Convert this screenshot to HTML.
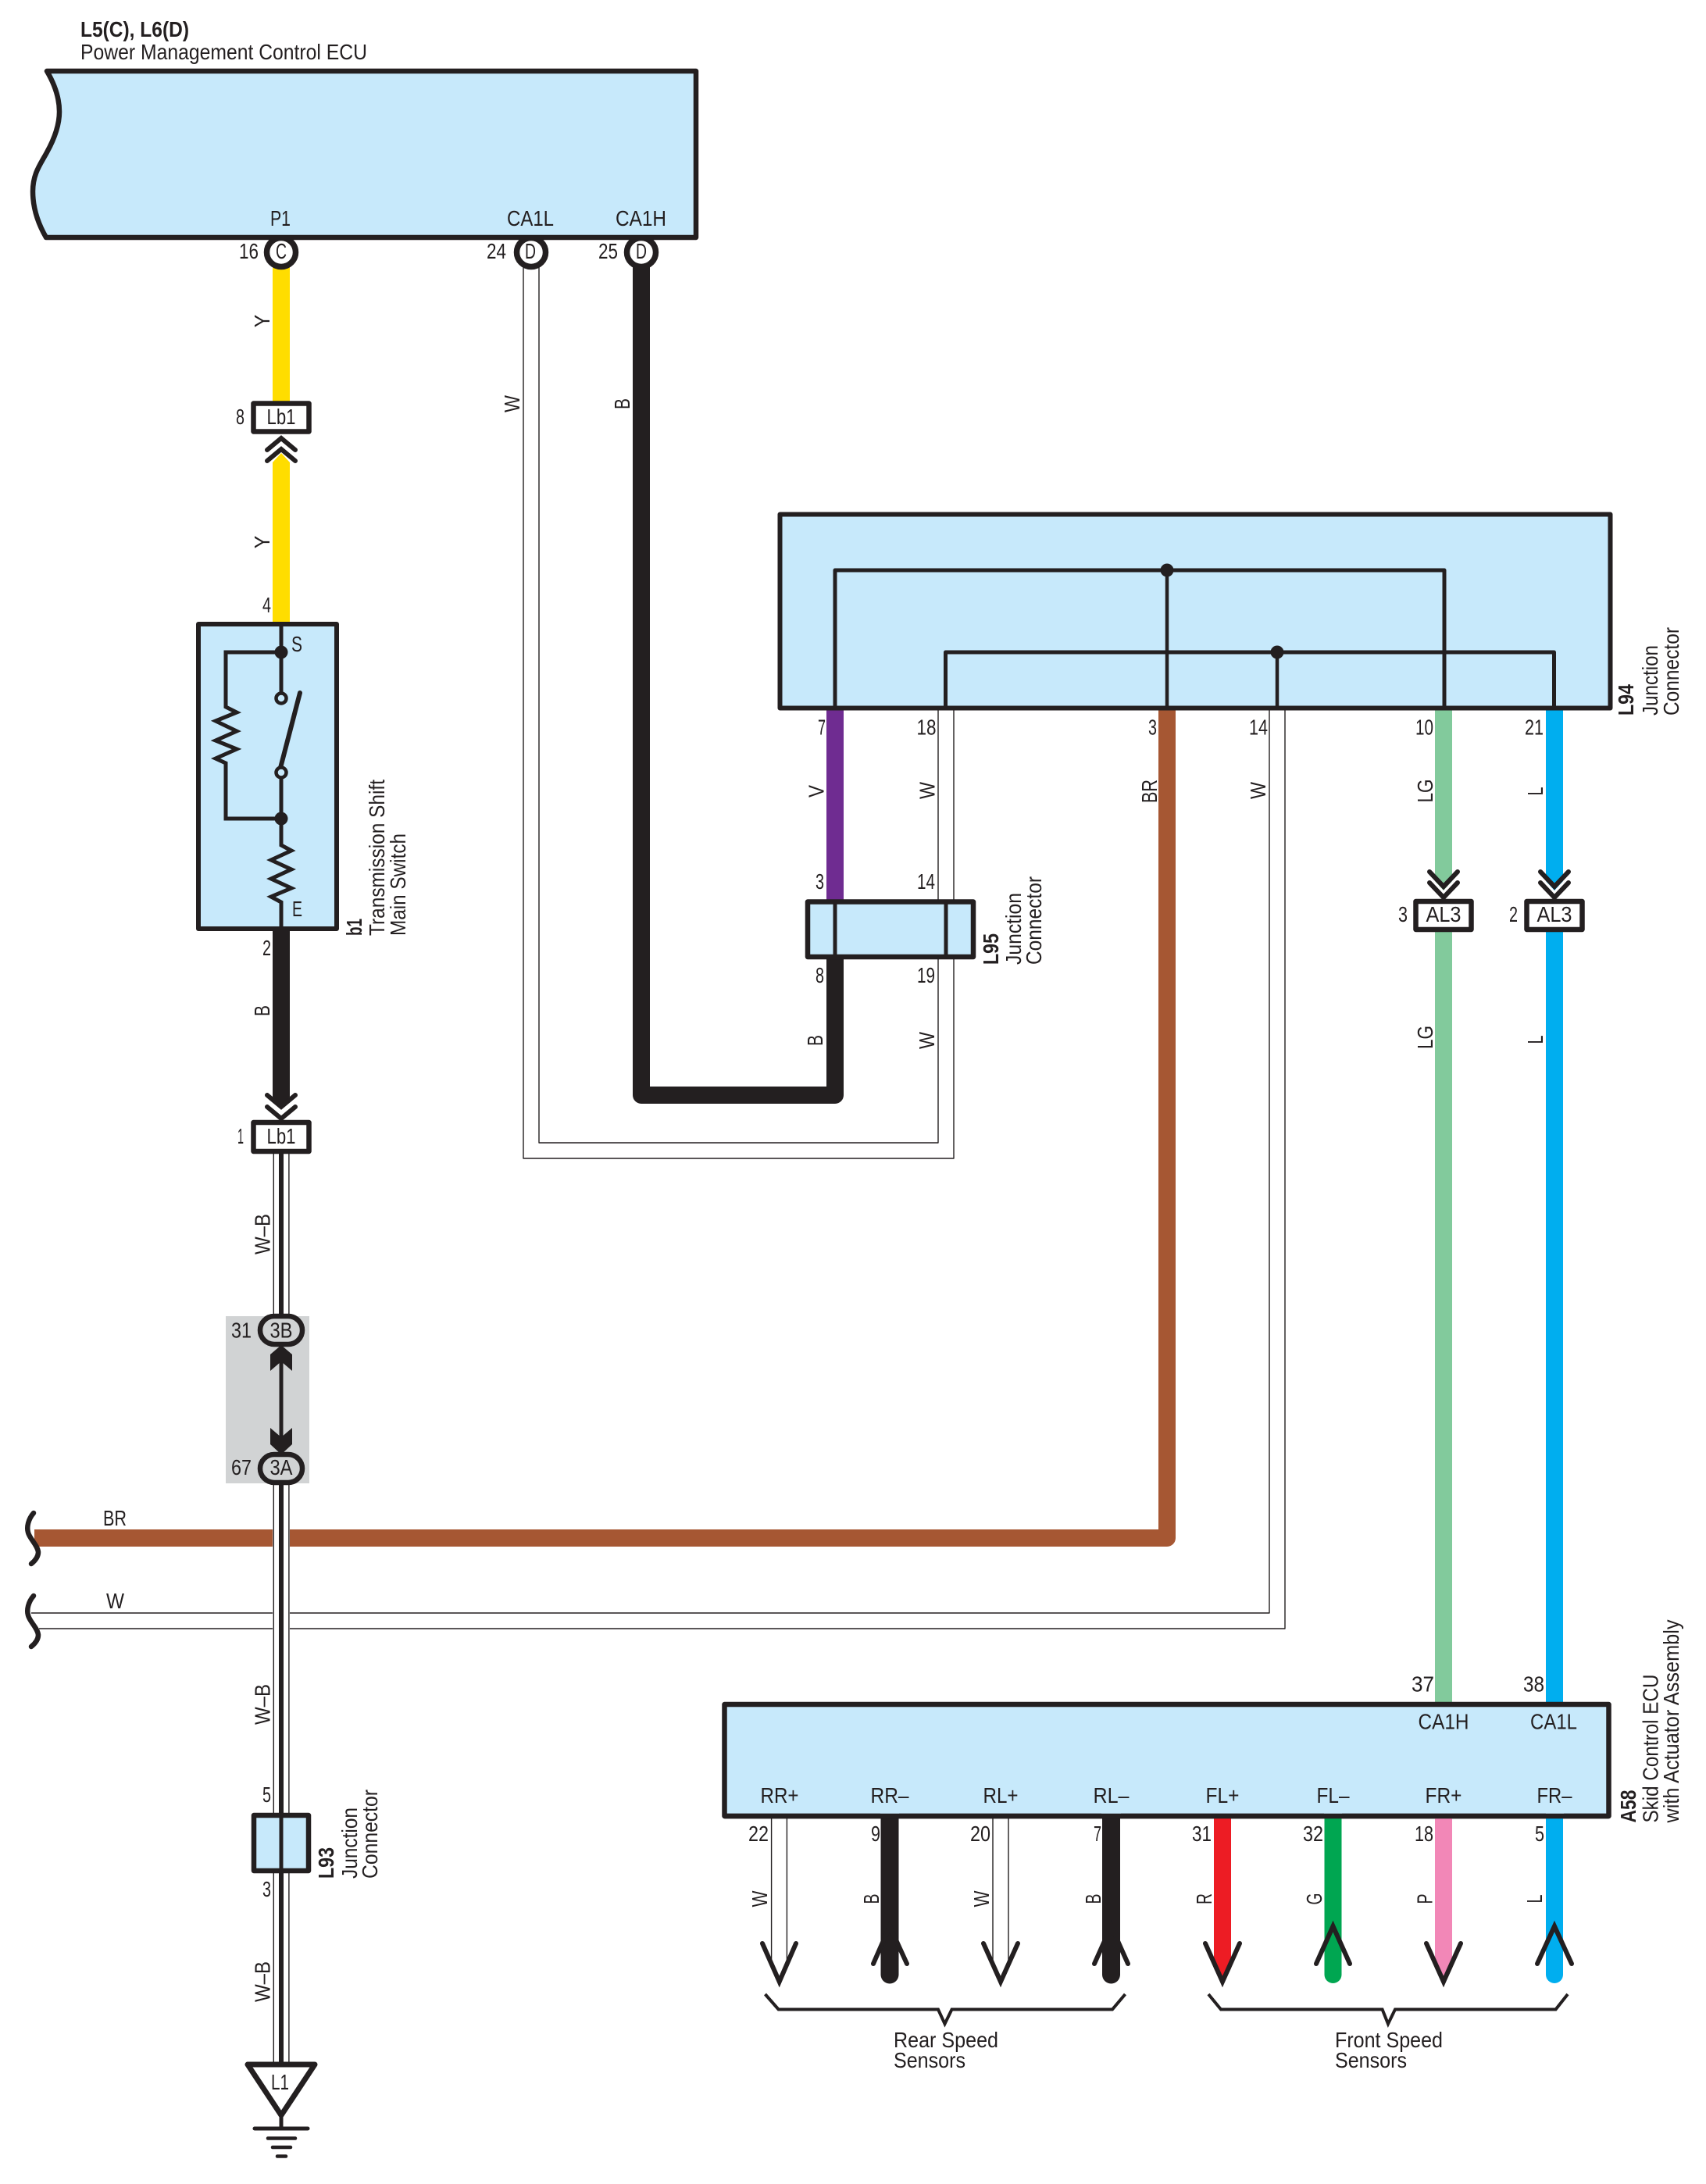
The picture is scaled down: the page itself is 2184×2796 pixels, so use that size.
<!DOCTYPE html>
<html><head><meta charset="utf-8"><title>Wiring diagram</title>
<style>html,body{margin:0;padding:0;background:#fff}svg{display:block}
text{font-family:"Liberation Sans",Arial,sans-serif;font-size:28px;fill:#231F20}
.b{font-weight:bold}.m{text-anchor:middle}</style></head>
<body>
<svg xmlns="http://www.w3.org/2000/svg" width="2184" height="2796" viewBox="0 0 2184 2796">
<rect width="2184" height="2796" fill="#fff"/>
<!-- grey splice background -->
<rect x="289" y="1685" width="107" height="214" fill="#D1D3D4"/>
<!-- coloured wires -->
<g fill="none" stroke-linecap="butt" stroke-linejoin="round">
<path d="M360,340V514" stroke="#FFDD00" stroke-width="22"/>
<polygon points="349,592 360,580 371,592 371,800 349,800" fill="#FFDD00"/>
<path d="M360,1190V1404" stroke="#231F20" stroke-width="22"/>
<polygon points="349,1400 371,1400 371,1404 360,1416 349,1404" fill="#231F20"/>
<path d="M821,340V1402H1069V1226" stroke="#231F20" stroke-width="22"/>
<path d="M1069,905V1154" stroke="#6F2C91" stroke-width="22"/>
<path d="M1494,905V1969H44" stroke="#A65733" stroke-width="22"/>
<path d="M1848,905V1116" stroke="#82CA9C" stroke-width="22"/>
<polygon points="1837,1116 1859,1116 1859,1128 1848,1140 1837,1128" fill="#82CA9C"/>
<path d="M1848,1190V2182" stroke="#82CA9C" stroke-width="22"/>
<path d="M1990,905V1116" stroke="#00AEEF" stroke-width="22"/>
<polygon points="1979,1116 2001,1116 2001,1128 1990,1140 1979,1128" fill="#00AEEF"/>
<path d="M1990,1190V2182" stroke="#00AEEF" stroke-width="22"/>
<!-- thin white wires -->
<g stroke="#231F20" stroke-width="1.4">
<path d="M670,340V1483H1221V905"/>
<path d="M690,340V1463H1201V905"/>
<path d="M40,2065H1625V905"/>
<path d="M50,2085H1645V905"/>
</g>
</g>
<!-- W-B wire -->
<rect x="349" y="1477" width="22" height="1166" fill="#fff"/>
<rect x="289" y="1685" width="107" height="214" fill="#D1D3D4"/>
<g stroke="#231F20" stroke-width="1.4">
<path d="M350.3,1477V1685M369.9,1477V1685M350.3,1900V2643M369.9,1900V2643"/>
</g>
<path d="M360,1477V1685M360,1900V2643" stroke="#231F20" stroke-width="6" fill="none"/>
<!-- splice -->
<path d="M360,1743V1840" stroke="#231F20" stroke-width="5"/>
<polygon points="360,1722 374,1734 374,1755 360,1743 346,1755 346,1734" fill="#231F20"/>
<polygon points="346,1828 360,1840 374,1828 374,1849 360,1862 346,1849" fill="#231F20"/>
<rect x="333" y="1685" width="54" height="36" rx="18" fill="#D1D3D4" stroke="#231F20" stroke-width="6.5"/>
<rect x="333" y="1862" width="54" height="36" rx="18" fill="#D1D3D4" stroke="#231F20" stroke-width="6.5"/>
<!-- pin circles (behind ECU) -->
<g fill="#fff" stroke="#231F20" stroke-width="7.5">
<circle cx="360" cy="323" r="18.5"/><circle cx="680" cy="323" r="18.5"/><circle cx="821" cy="323" r="18.5"/>
</g>
<!-- ECU -->
<path d="M60,91H891V304H59C48,285 42,265 42,245C42,222 52,210 60,195C70,177 76,160 76,143C76,125 70,108 60,91Z" fill="#C7E9FB" stroke="#231F20" stroke-width="6.5" stroke-linejoin="round"/>
<!-- L94 -->
<rect x="998.5" y="658.5" width="1063" height="248" fill="#C7E9FB" stroke="#231F20" stroke-width="6" stroke-linejoin="round"/>
<g fill="none" stroke="#231F20" stroke-width="5" stroke-linejoin="round">
<path d="M1069,906V730H1849V906"/>
<path d="M1210.5,906V835H1989.5V906"/>
<path d="M1494,730V906M1635,835V906" stroke-width="4.5"/>
</g>
<circle cx="1494" cy="730" r="8.5" fill="#231F20"/><circle cx="1635" cy="835" r="8.5" fill="#231F20"/>
<!-- L95 -->
<rect x="1034" y="1154.5" width="212" height="70.5" fill="#C7E9FB" stroke="#231F20" stroke-width="6.5" stroke-linejoin="round"/>
<path d="M1069,1154V1226M1211,1154V1226" stroke="#231F20" stroke-width="5"/>
<!-- switch box -->
<rect x="254" y="799" width="177" height="390" fill="#C7E9FB" stroke="#231F20" stroke-width="6" stroke-linejoin="round"/>
<g fill="none" stroke="#231F20" stroke-width="5" stroke-linejoin="miter">
<path d="M360,799V888"/>
<path d="M360,835H289V905L303,912L276,923L303,936L276,948L303,959L276,971L289,977V1048H360"/>
<path d="M360,996V1082L373,1089L347,1101L373,1113L347,1125L373,1137L347,1148L360,1155V1190"/>
<path d="M359,983L384,887" stroke-width="6" stroke-linecap="round"/>
</g>
<circle cx="360" cy="835" r="8.5" fill="#231F20"/><circle cx="360" cy="1048" r="8.5" fill="#231F20"/>
<circle cx="360" cy="894" r="6.5" fill="#C7E9FB" stroke="#231F20" stroke-width="4.5"/>
<circle cx="360" cy="989" r="6.5" fill="#C7E9FB" stroke="#231F20" stroke-width="4.5"/>
<!-- connectors -->
<g fill="#fff" stroke="#231F20" stroke-width="6.5" stroke-linejoin="round">
<rect x="324.5" y="516.5" width="71" height="36"/>
<rect x="324.5" y="1437" width="71" height="37"/>
<rect x="1812.5" y="1154" width="71" height="36"/>
<rect x="1954.5" y="1154" width="71" height="36"/>
</g>
<!-- chevrons -->
<g fill="none" stroke="#231F20" stroke-width="6" stroke-linecap="round" stroke-linejoin="miter">
<path d="M342,576L360,561L378,576M342,590L360,575L378,590"/>
<path d="M342,1402L360,1417L378,1402M342,1417L360,1432L378,1417"/>
<path d="M1830,1116L1848,1135L1866,1116M1830,1130L1848,1149L1866,1130"/>
<path d="M1972,1116L1990,1135L2008,1116M1972,1130L1990,1149L2008,1130"/>
</g>
<!-- L93 -->
<rect x="325" y="2324" width="70" height="71" fill="#C7E9FB" stroke="#231F20" stroke-width="6.5" stroke-linejoin="round"/>
<path d="M360,2324V2395" stroke="#231F20" stroke-width="5"/>
<!-- ground -->
<path d="M317,2643H403L360,2708Z" fill="#fff" stroke="#231F20" stroke-width="7" stroke-linejoin="round"/>
<g stroke="#231F20" stroke-linecap="round" fill="none">
<path d="M360,2707V2725" stroke-width="5"/>
<path d="M326,2725H394" stroke-width="5"/>
<path d="M343,2737.5H378" stroke-width="4.5"/>
<path d="M349,2749H372" stroke-width="4.5"/>
<path d="M355,2760.5H366" stroke-width="4.5"/>
</g>
<!-- A58 -->
<rect x="927.5" y="2182" width="1132" height="143" fill="#C7E9FB" stroke="#231F20" stroke-width="6.5" stroke-linejoin="round"/>
<!-- output wires -->
<g stroke="#231F20" stroke-width="1.4" fill="none">
<path d="M987.6,2328V2520M1007.4,2328V2520M1271,2328V2520M1291,2328V2520"/>
</g>
<path d="M1139,2328V2528M1422.5,2328V2528" stroke="#231F20" stroke-width="23" stroke-linecap="round" fill="none"/>
<rect x="1127" y="2310" width="24" height="14" fill="#C7E9FB"/><rect x="1410" y="2310" width="25" height="14" fill="#C7E9FB"/>
<path d="M1706.5,2328V2528" stroke="#00A651" stroke-width="22" stroke-linecap="round" fill="none"/>
<rect x="1695" y="2310" width="23" height="14" fill="#C7E9FB"/>
<path d="M1990,2328V2528" stroke="#00AEEF" stroke-width="22" stroke-linecap="round" fill="none"/>
<rect x="1979" y="2310" width="23" height="14" fill="#C7E9FB"/>
<polygon points="1554,2328 1576,2328 1576,2520 1565,2538 1554,2520" fill="#ED1C24"/>
<polygon points="1837,2328 1859,2328 1859,2520 1848,2538 1837,2520" fill="#F287B7"/>
<path d="M927.5,2325H2059.5" stroke="#231F20" stroke-width="6.5"/>
<g fill="none" stroke="#231F20" stroke-width="6" stroke-linecap="round" stroke-linejoin="miter">
<path d="M976,2488L997.7,2537L1019,2488"/>
<path d="M1259,2488L1281,2537L1303,2488"/>
<path d="M1543,2488L1565,2537L1587,2488"/>
<path d="M1826,2488L1848,2537L1870,2488"/>
<path d="M1118,2514L1139,2466L1161,2514"/>
<path d="M1401,2514L1422.5,2466L1444,2514"/>
<path d="M1685,2514L1706.5,2466L1728,2514"/>
<path d="M1968,2514L1990,2466L2012,2514"/>
</g>
<!-- brackets -->
<g fill="none" stroke="#231F20" stroke-width="4">
<path d="M979.5,2553L996.6,2572.5H1201L1209.5,2591L1218.5,2572.5H1424L1440.5,2553"/>
<path d="M1547,2553L1563,2572.5H1769.6L1777,2591L1786,2572.5H1991.6L2007,2553"/>
</g>
<!-- break marks -->
<g fill="none" stroke="#231F20" stroke-width="6.5" stroke-linecap="round">
<path d="M43,1937C36,1945 34,1955 36,1962C38,1970 48,1978 49,1987C49,1993 45,1998 40,2002"/>
<path d="M43,2043C36,2051 34,2061 36,2068C38,2076 48,2084 49,2093C49,2099 45,2104 40,2108"/>
</g>
<!-- horizontal text -->
<text class="b" x="103" y="47" textLength="139" lengthAdjust="spacingAndGlyphs">L5(C), L6(D)</text>
<text x="103" y="76" textLength="367" lengthAdjust="spacingAndGlyphs">Power Management Control ECU</text>
<g>
<text class="m" x="359" y="289" textLength="26" lengthAdjust="spacingAndGlyphs">P1</text>
<text class="m" x="679" y="289" textLength="60" lengthAdjust="spacingAndGlyphs">CA1L</text>
<text class="m" x="820.5" y="289" textLength="65" lengthAdjust="spacingAndGlyphs">CA1H</text>
<text class="m" x="360" y="331" textLength="14" lengthAdjust="spacingAndGlyphs">C</text>
<text class="m" x="679" y="331" textLength="14" lengthAdjust="spacingAndGlyphs">D</text>
<text class="m" x="821" y="331" textLength="14" lengthAdjust="spacingAndGlyphs">D</text>
<text x="306" y="331" textLength="25" lengthAdjust="spacingAndGlyphs">16</text>
<text x="623" y="331" textLength="25" lengthAdjust="spacingAndGlyphs">24</text>
<text x="766" y="331" textLength="25" lengthAdjust="spacingAndGlyphs">25</text>
<text x="302" y="543" textLength="11" lengthAdjust="spacingAndGlyphs">8</text>
<text class="m" x="360" y="543" textLength="37" lengthAdjust="spacingAndGlyphs">Lb1</text>
<text x="336" y="784" textLength="11" lengthAdjust="spacingAndGlyphs">4</text>
<text x="373" y="834" textLength="14" lengthAdjust="spacingAndGlyphs">S</text>
<text x="374" y="1173" textLength="13" lengthAdjust="spacingAndGlyphs">E</text>
<text x="336" y="1223" textLength="11" lengthAdjust="spacingAndGlyphs">2</text>
<text x="304" y="1464" textLength="8" lengthAdjust="spacingAndGlyphs">1</text>
<text class="m" x="360" y="1464" textLength="37" lengthAdjust="spacingAndGlyphs">Lb1</text>
<text class="m" x="360" y="1712.5" textLength="29" lengthAdjust="spacingAndGlyphs">3B</text>
<text class="m" x="360" y="1888" textLength="29" lengthAdjust="spacingAndGlyphs">3A</text>
<text x="296" y="1712.5" textLength="26" lengthAdjust="spacingAndGlyphs">31</text>
<text x="296" y="1888" textLength="26" lengthAdjust="spacingAndGlyphs">67</text>
<text x="132" y="1953" textLength="30" lengthAdjust="spacingAndGlyphs">BR</text>
<text x="136" y="2059" textLength="23" lengthAdjust="spacingAndGlyphs">W</text>
<text x="336" y="2307" textLength="11" lengthAdjust="spacingAndGlyphs">5</text>
<text x="336" y="2428" textLength="11" lengthAdjust="spacingAndGlyphs">3</text>
<text class="m" x="358.5" y="2675" textLength="23" lengthAdjust="spacingAndGlyphs">L1</text>
<!-- L94 pins -->
<text x="1047" y="940.5" textLength="10" lengthAdjust="spacingAndGlyphs">7</text>
<text x="1173.5" y="940.5" textLength="25" lengthAdjust="spacingAndGlyphs">18</text>
<text x="1470" y="940.5" textLength="11" lengthAdjust="spacingAndGlyphs">3</text>
<text x="1599" y="940.5" textLength="24" lengthAdjust="spacingAndGlyphs">14</text>
<text x="1812" y="940.5" textLength="23" lengthAdjust="spacingAndGlyphs">10</text>
<text x="1952" y="940.5" textLength="24" lengthAdjust="spacingAndGlyphs">21</text>
<text x="1044" y="1138" textLength="11" lengthAdjust="spacingAndGlyphs">3</text>
<text x="1174" y="1138" textLength="23" lengthAdjust="spacingAndGlyphs">14</text>
<text x="1044" y="1258" textLength="11" lengthAdjust="spacingAndGlyphs">8</text>
<text x="1174" y="1258" textLength="23" lengthAdjust="spacingAndGlyphs">19</text>
<text x="1790" y="1180" textLength="12" lengthAdjust="spacingAndGlyphs">3</text>
<text x="1932" y="1180" textLength="11" lengthAdjust="spacingAndGlyphs">2</text>
<text class="m" x="1848" y="1180" textLength="45" lengthAdjust="spacingAndGlyphs">AL3</text>
<text class="m" x="1990" y="1180" textLength="45" lengthAdjust="spacingAndGlyphs">AL3</text>
<!-- A58 -->
<text x="1807" y="2165.5" textLength="29" lengthAdjust="spacingAndGlyphs">37</text>
<text x="1950" y="2165.5" textLength="27" lengthAdjust="spacingAndGlyphs">38</text>
<text class="m" x="1848" y="2213.5" textLength="65" lengthAdjust="spacingAndGlyphs">CA1H</text>
<text class="m" x="1989" y="2213.5" textLength="60" lengthAdjust="spacingAndGlyphs">CA1L</text>
<text class="m" x="998" y="2308" textLength="49" lengthAdjust="spacingAndGlyphs">RR+</text>
<text class="m" x="1139" y="2308" textLength="49" lengthAdjust="spacingAndGlyphs">RR–</text>
<text class="m" x="1281" y="2308" textLength="45" lengthAdjust="spacingAndGlyphs">RL+</text>
<text class="m" x="1422.5" y="2308" textLength="46" lengthAdjust="spacingAndGlyphs">RL–</text>
<text class="m" x="1565" y="2308" textLength="43" lengthAdjust="spacingAndGlyphs">FL+</text>
<text class="m" x="1706.5" y="2308" textLength="42" lengthAdjust="spacingAndGlyphs">FL–</text>
<text class="m" x="1848" y="2308" textLength="47" lengthAdjust="spacingAndGlyphs">FR+</text>
<text class="m" x="1990" y="2308" textLength="45" lengthAdjust="spacingAndGlyphs">FR–</text>
<text x="958" y="2357" textLength="26" lengthAdjust="spacingAndGlyphs">22</text>
<text x="1115" y="2357" textLength="12" lengthAdjust="spacingAndGlyphs">9</text>
<text x="1242" y="2357" textLength="26" lengthAdjust="spacingAndGlyphs">20</text>
<text x="1400" y="2357" textLength="10" lengthAdjust="spacingAndGlyphs">7</text>
<text x="1526" y="2357" textLength="25" lengthAdjust="spacingAndGlyphs">31</text>
<text x="1668" y="2357" textLength="26" lengthAdjust="spacingAndGlyphs">32</text>
<text x="1811" y="2357" textLength="24" lengthAdjust="spacingAndGlyphs">18</text>
<text x="1965" y="2357" textLength="12" lengthAdjust="spacingAndGlyphs">5</text>
<text x="1144" y="2621" textLength="134" lengthAdjust="spacingAndGlyphs">Rear Speed</text>
<text x="1144" y="2647" textLength="92" lengthAdjust="spacingAndGlyphs">Sensors</text>
<text x="1709" y="2621" textLength="138" lengthAdjust="spacingAndGlyphs">Front Speed</text>
<text x="1709" y="2647" textLength="92" lengthAdjust="spacingAndGlyphs">Sensors</text>
</g>
<!-- rotated wire colour labels -->
<text class="m" transform="translate(345,411) rotate(-90)" textLength="16.5" lengthAdjust="spacingAndGlyphs">Y</text>
<text class="m" transform="translate(345,694) rotate(-90)" textLength="16.5" lengthAdjust="spacingAndGlyphs">Y</text>
<text class="m" transform="translate(665,517) rotate(-90)" textLength="22" lengthAdjust="spacingAndGlyphs">W</text>
<text class="m" transform="translate(806,517) rotate(-90)" textLength="14" lengthAdjust="spacingAndGlyphs">B</text>
<text class="m" transform="translate(345,1294) rotate(-90)" textLength="14" lengthAdjust="spacingAndGlyphs">B</text>
<text class="m" transform="translate(345.5,1580) rotate(-90)" textLength="52" lengthAdjust="spacingAndGlyphs">W–B</text>
<text class="m" transform="translate(345.5,2182) rotate(-90)" textLength="52" lengthAdjust="spacingAndGlyphs">W–B</text>
<text class="m" transform="translate(345.5,2537) rotate(-90)" textLength="52" lengthAdjust="spacingAndGlyphs">W–B</text>
<text class="m" transform="translate(1054.5,1013) rotate(-90)" textLength="16" lengthAdjust="spacingAndGlyphs">V</text>
<text class="m" transform="translate(1196.5,1012) rotate(-90)" textLength="22" lengthAdjust="spacingAndGlyphs">W</text>
<text class="m" transform="translate(1481,1013) rotate(-90)" textLength="30" lengthAdjust="spacingAndGlyphs">BR</text>
<text class="m" transform="translate(1620,1012) rotate(-90)" textLength="22" lengthAdjust="spacingAndGlyphs">W</text>
<text class="m" transform="translate(1834,1012.5) rotate(-90)" textLength="30" lengthAdjust="spacingAndGlyphs">LG</text>
<text class="m" transform="translate(1975,1013) rotate(-90)" textLength="11" lengthAdjust="spacingAndGlyphs">L</text>
<text class="m" transform="translate(1053,1332) rotate(-90)" textLength="14" lengthAdjust="spacingAndGlyphs">B</text>
<text class="m" transform="translate(1196,1332) rotate(-90)" textLength="22" lengthAdjust="spacingAndGlyphs">W</text>
<text class="m" transform="translate(1834,1328) rotate(-90)" textLength="30" lengthAdjust="spacingAndGlyphs">LG</text>
<text class="m" transform="translate(1975,1331) rotate(-90)" textLength="11" lengthAdjust="spacingAndGlyphs">L</text>
<text class="m" transform="translate(982,2431) rotate(-90)" textLength="21" lengthAdjust="spacingAndGlyphs">W</text>
<text class="m" transform="translate(1125,2431) rotate(-90)" textLength="13" lengthAdjust="spacingAndGlyphs">B</text>
<text class="m" transform="translate(1266,2431) rotate(-90)" textLength="21" lengthAdjust="spacingAndGlyphs">W</text>
<text class="m" transform="translate(1409,2431) rotate(-90)" textLength="13" lengthAdjust="spacingAndGlyphs">B</text>
<text class="m" transform="translate(1551,2431) rotate(-90)" textLength="14" lengthAdjust="spacingAndGlyphs">R</text>
<text class="m" transform="translate(1692,2431) rotate(-90)" textLength="15" lengthAdjust="spacingAndGlyphs">G</text>
<text class="m" transform="translate(1833.5,2431) rotate(-90)" textLength="13" lengthAdjust="spacingAndGlyphs">P</text>
<text class="m" transform="translate(1974,2431) rotate(-90)" textLength="11" lengthAdjust="spacingAndGlyphs">L</text>
<!-- rotated component labels -->
<text class="b" transform="translate(463,1198) rotate(-90)" textLength="22" lengthAdjust="spacingAndGlyphs">b1</text>
<text transform="translate(492,1198) rotate(-90)" textLength="200" lengthAdjust="spacingAndGlyphs">Transmission Shift</text>
<text transform="translate(519,1198) rotate(-90)" textLength="131" lengthAdjust="spacingAndGlyphs">Main Switch</text>
<text class="b" transform="translate(427,2405) rotate(-90)" textLength="40" lengthAdjust="spacingAndGlyphs">L93</text>
<text transform="translate(457,2405) rotate(-90)" textLength="91" lengthAdjust="spacingAndGlyphs">Junction</text>
<text transform="translate(483,2405) rotate(-90)" textLength="114" lengthAdjust="spacingAndGlyphs">Connector</text>
<text class="b" transform="translate(1278,1235) rotate(-90)" textLength="40" lengthAdjust="spacingAndGlyphs">L95</text>
<text transform="translate(1307,1235) rotate(-90)" textLength="92" lengthAdjust="spacingAndGlyphs">Junction</text>
<text transform="translate(1333,1235) rotate(-90)" textLength="113" lengthAdjust="spacingAndGlyphs">Connector</text>
<text class="b" transform="translate(2091,916) rotate(-90)" textLength="40" lengthAdjust="spacingAndGlyphs">L94</text>
<text transform="translate(2122,916) rotate(-90)" textLength="90" lengthAdjust="spacingAndGlyphs">Junction</text>
<text transform="translate(2149,916) rotate(-90)" textLength="113" lengthAdjust="spacingAndGlyphs">Connector</text>
<text class="b" transform="translate(2094,2333.5) rotate(-90)" textLength="42" lengthAdjust="spacingAndGlyphs">A58</text>
<text transform="translate(2122.5,2333.5) rotate(-90)" textLength="190" lengthAdjust="spacingAndGlyphs">Skid Control ECU</text>
<text transform="translate(2149,2333.5) rotate(-90)" textLength="260" lengthAdjust="spacingAndGlyphs">with Actuator Assembly</text>
</svg>
</body></html>
